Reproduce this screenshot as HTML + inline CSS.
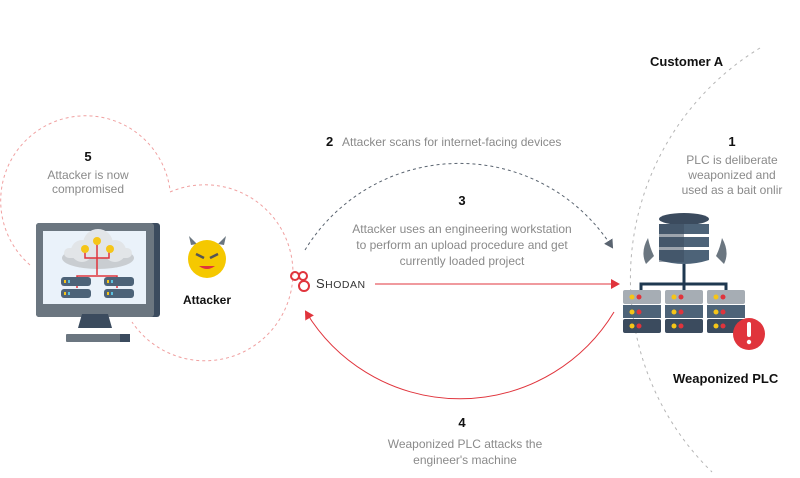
<!DOCTYPE html>
<html><head><meta charset="utf-8"><style>
html,body{margin:0;padding:0;background:#fff;}
svg{display:block;font-family:"Liberation Sans","DejaVu Sans",sans-serif;}
.t{fill:#8a8a8a;font-size:12px;}
.b{fill:#111;font-size:13px;font-weight:bold;}
</style></head><body>
<svg width="800" height="478" viewBox="0 0 800 478" xmlns="http://www.w3.org/2000/svg">
<defs>
<marker id="ag" markerWidth="10" markerHeight="10" refX="7" refY="5" orient="auto" markerUnits="userSpaceOnUse"><path d="M0,0 L9,5 L0,10 z" fill="#5a6470"/></marker>
<marker id="ar" markerWidth="10" markerHeight="10" refX="7" refY="5" orient="auto" markerUnits="userSpaceOnUse"><path d="M0,0 L9,5 L0,10 z" fill="#e0343c"/></marker>
</defs>
<path d="M30,265 A85,85 0 1 1 170,190" fill="none" stroke="#f0a0a0" stroke-width="1" stroke-dasharray="3,3"/>
<path d="M170,192 A88,88 0 1 1 132,322" fill="none" stroke="#f0a0a0" stroke-width="1" stroke-dasharray="3,3"/>
<path d="M760,48 A270,270 0 0 0 712,472" fill="none" stroke="#b5b5b5" stroke-width="1" stroke-dasharray="3,4"/>
<path d="M305,250 A181,181 0 0 1 612,247" fill="none" stroke="#5a6470" stroke-width="1" stroke-dasharray="3,3" marker-end="url(#ag)"/>
<line x1="375" y1="284" x2="618" y2="284" stroke="#e0343c" stroke-width="1"/>
<path d="M611,279 L620,284 L611,289 z" fill="#e0343c"/>
<path d="M614,312 A180,180 0 0 1 306,312" fill="none" stroke="#e0343c" stroke-width="1" marker-end="url(#ar)"/>

<text x="650" y="66" class="b">Customer A</text>
<text x="732" y="146" class="b" text-anchor="middle">1</text>
<text x="732" y="164" class="t" text-anchor="middle">PLC is deliberate</text>
<text x="732" y="179" class="t" text-anchor="middle">weaponized and</text>
<text x="732" y="194" class="t" text-anchor="middle">used as a bait onlir</text>
<text x="326" y="146" class="b">2</text>
<text x="342" y="146" class="t">Attacker scans for internet-facing devices</text>
<text x="462" y="205" class="b" text-anchor="middle">3</text>
<text x="462" y="233" class="t" text-anchor="middle">Attacker uses an engineering workstation</text>
<text x="462" y="249" class="t" text-anchor="middle">to perform an upload procedure and get</text>
<text x="462" y="265" class="t" text-anchor="middle">currently loaded project</text>
<text x="462" y="427" class="b" text-anchor="middle">4</text>
<text x="465" y="448" class="t" text-anchor="middle">Weaponized PLC attacks the</text>
<text x="465" y="464" class="t" text-anchor="middle">engineer's machine</text>
<text x="88" y="161" class="b" text-anchor="middle">5</text>
<text x="88" y="179" class="t" text-anchor="middle">Attacker is now</text>
<text x="88" y="193" class="t" text-anchor="middle">compromised</text>
<text x="207" y="304" class="b" text-anchor="middle" style="font-size:12px">Attacker</text>
<text x="673" y="383" class="b">Weaponized PLC</text>

<g fill="none" stroke="#e0343c" stroke-width="2">
<circle cx="295" cy="276" r="4"/><circle cx="303" cy="276" r="4"/><circle cx="304" cy="286" r="5"/>
</g>
<text x="316" y="288" style="font-size:13px;fill:#333;letter-spacing:0.5px">S<tspan style="font-size:10.5px">HODAN</tspan></text>

<rect x="36" y="223" width="124" height="94" rx="3" fill="#3b4b5e"/>
<rect x="36" y="223" width="118" height="94" rx="3" fill="#6b7680"/>
<rect x="43" y="231" width="103" height="73" fill="#eaf2fa"/>
<path d="M78,328 L82,314 L108,314 L112,328 z" fill="#3b4b5e"/>
<rect x="66" y="334" width="64" height="8" rx="1" fill="#6b7680"/>
<rect x="120" y="334" width="10" height="8" fill="#3b4b5e"/>
<ellipse cx="98" cy="258" rx="36" ry="11" fill="#c9cdd1"/>
<circle cx="98" cy="244" r="15" fill="#e2e5e8"/>
<circle cx="82" cy="251" r="11" fill="#e2e5e8"/>
<circle cx="115" cy="251" r="11" fill="#e2e5e8"/>
<rect x="64" y="248" width="68" height="10" rx="5" fill="#e2e5e8"/>
<g stroke="#e0343c" stroke-width="1.5" fill="none">
<path d="M97,242 V275 M85,250 V258 H109 V250 M77,288 V276 H117 V288"/>
</g>
<circle cx="97" cy="241" r="4" fill="#f5c518"/><circle cx="85" cy="249" r="4" fill="#f5c518"/><circle cx="110" cy="249" r="4" fill="#f5c518"/>
<rect x="61" y="277" width="30" height="9" rx="3" fill="#4d6378"/>
<rect x="61" y="289" width="30" height="9" rx="3" fill="#4d6378"/>
<rect x="104" y="277" width="30" height="9" rx="3" fill="#4d6378"/>
<rect x="104" y="289" width="30" height="9" rx="3" fill="#4d6378"/>
<g fill="#f5c518"><rect x="64" y="280" width="2" height="3"/><rect x="64" y="292" width="2" height="3"/><rect x="107" y="280" width="2" height="3"/><rect x="107" y="292" width="2" height="3"/></g>
<g fill="#5bc0de"><rect x="68" y="280" width="2" height="3"/><rect x="68" y="292" width="2" height="3"/><rect x="111" y="280" width="2" height="3"/><rect x="111" y="292" width="2" height="3"/></g>

<path d="M191,245 L189,236 L197,244 z M224,245 L226,236 L218,244 z" fill="#6b7680"/>
<circle cx="207" cy="259" r="19" fill="#f5c800"/>
<path d="M196,254 L204,258 M218,254 L210,258" stroke="#555" stroke-width="2.5"/>
<path d="M199,266 Q207,272 215,266 z" fill="#e0343c"/>

<path d="M648,238 Q640,252 646,264 L654,256 Q650,248 648,238 z" fill="#6b7680"/>
<path d="M722,238 Q730,252 724,264 L716,256 Q720,248 722,238 z" fill="#6b7680"/>
<ellipse cx="684" cy="219" rx="25" ry="6" fill="#3b4b5e"/>
<rect x="659" y="224" width="50" height="10" fill="#4d6378"/>
<rect x="659" y="237" width="50" height="10" fill="#4d6378"/>
<path d="M659,250 H709 V260 Q684,268 659,260 z" fill="#4d6378"/>
<rect x="659" y="224" width="25" height="38" fill="#3b4b5e" opacity="0.5"/>
<path d="M684,264 V284 M641,292 V284 H726 V292 M684,284 V292" stroke="#1f3850" stroke-width="3" fill="none"/>
<g>
<rect x="623" y="290" width="38" height="14" rx="2" fill="#a6adb4"/>
<rect x="623" y="305" width="38" height="13" fill="#4d6378"/>
<rect x="623" y="319" width="38" height="14" rx="2" fill="#3b4b5e"/>
<rect x="665" y="290" width="38" height="14" rx="2" fill="#a6adb4"/>
<rect x="665" y="305" width="38" height="13" fill="#4d6378"/>
<rect x="665" y="319" width="38" height="14" rx="2" fill="#3b4b5e"/>
<rect x="707" y="290" width="38" height="14" rx="2" fill="#a6adb4"/>
<rect x="707" y="305" width="38" height="13" fill="#4d6378"/>
<rect x="707" y="319" width="38" height="14" rx="2" fill="#3b4b5e"/>
</g>
<g fill="#f5c518">
<circle cx="632" cy="297" r="2.5"/><circle cx="632" cy="312" r="2.5"/><circle cx="632" cy="326" r="2.5"/>
<circle cx="674" cy="297" r="2.5"/><circle cx="674" cy="312" r="2.5"/><circle cx="674" cy="326" r="2.5"/>
<circle cx="716" cy="297" r="2.5"/><circle cx="716" cy="312" r="2.5"/><circle cx="716" cy="326" r="2.5"/>
</g>
<g fill="#e0343c">
<circle cx="639" cy="297" r="2.5"/><circle cx="639" cy="312" r="2.5"/><circle cx="639" cy="326" r="2.5"/>
<circle cx="681" cy="297" r="2.5"/><circle cx="681" cy="312" r="2.5"/><circle cx="681" cy="326" r="2.5"/>
<circle cx="723" cy="297" r="2.5"/><circle cx="723" cy="312" r="2.5"/><circle cx="723" cy="326" r="2.5"/>
</g>
<circle cx="749" cy="334" r="16" fill="#e0343c"/>
<rect x="747" y="322" width="4" height="15" rx="2" fill="#fff"/>
<circle cx="749" cy="342" r="2.2" fill="#fff"/>
</svg>
</body></html>
